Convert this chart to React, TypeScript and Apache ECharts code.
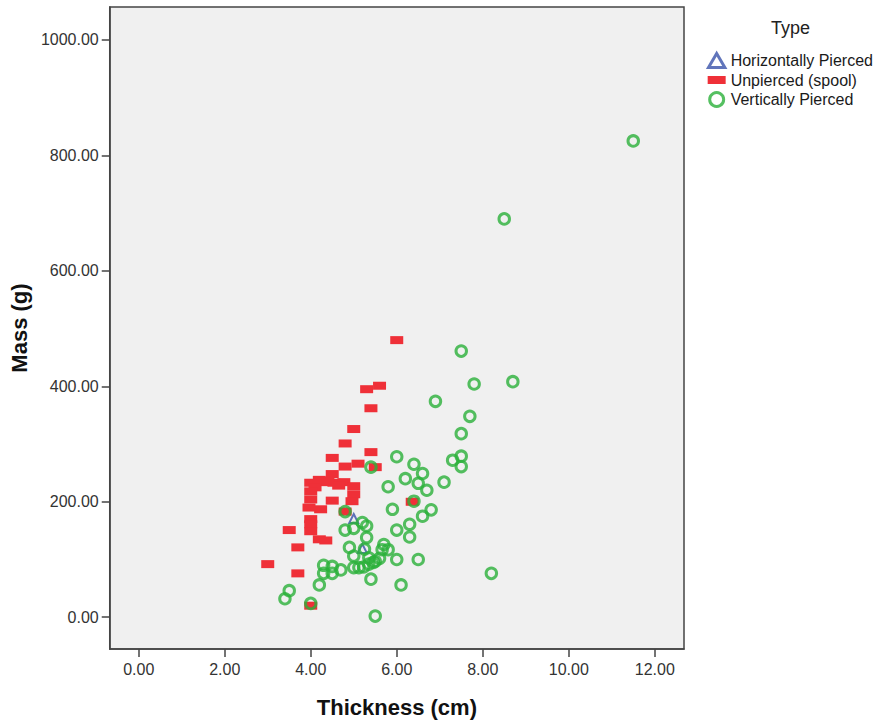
import { useEffect, useRef } from 'react';
import * as echarts from 'echarts';

// Artefact types (legend order = drawing order)
const typeNames = ['Horizontally Pierced', 'Unpierced (spool)', 'Vertically Pierced'];

// Axis tick values
const xTicks = [0, 2, 4, 6, 8, 10, 12];
const yTicks = [0, 200, 400, 600, 800, 1000];

// Horizontally pierced: thickness (cm) / mass (g)
const horizThickness = [5.0, 5.2];
const horizMass = [171, 119];

// Unpierced (spool): thickness (cm) / mass (g)
const spoolThickness = [
  6.0, 5.6, 5.3, 5.4, 5.0, 4.8, 5.4, 4.5, 5.5, 5.1, 4.8, 4.5,
  4.0, 4.27, 4.54, 4.77, 5.0, 4.2, 4.4, 4.1, 4.65,
  4.0, 5.0, 4.0, 4.5, 4.96, 3.96, 4.23, 4.8, 4.0, 4.0,
  3.5, 4.0, 4.2, 4.35, 3.7, 3.0, 3.7, 4.0, 6.36,
];
const spoolMass = [
  480, 401, 395, 362, 326, 301, 286, 276, 260, 266, 261, 248,
  233, 234, 233, 234, 227, 238, 236, 225, 228,
  218, 213, 204, 202, 201, 190, 187, 183, 170, 161,
  151, 149, 135, 133, 121, 92, 76, 20, 200,
];

// Vertically pierced: thickness (cm) / mass (g)
const verticalThickness = [
  11.5, 8.5, 7.5, 7.8, 8.7, 6.9, 7.7, 7.5, 6.0, 6.4,
  6.6, 6.2, 6.5, 6.7, 5.8, 7.1, 7.3, 7.5, 7.5, 6.4,
  5.9, 6.8, 6.6, 6.0, 6.3, 6.3, 5.7, 5.66, 5.8, 5.6,
  5.5, 6.0, 6.5, 8.2, 6.1, 5.5, 5.4, 4.8, 5.2, 5.3,
  5.0, 4.8, 5.3, 4.9, 5.25, 5.0, 5.35, 5.0, 5.12, 5.23,
  5.35, 5.46, 4.3, 4.5, 4.7, 4.3, 4.5, 4.2, 5.4, 3.5,
  3.4, 4.0,
];
const verticalMass = [
  825, 690, 461, 404, 408, 374, 348, 318, 278, 265,
  249, 240, 232, 220, 226, 234, 272, 279, 261, 201,
  187, 186, 175, 151, 161, 139, 126, 117, 117, 102,
  97, 100, 100, 76, 56, 2, 260, 183, 164, 158,
  154, 151, 138, 121, 118, 106, 103, 86, 86, 87,
  92, 95, 90, 88, 82, 76, 76, 56, 66, 46,
  32, 24,
];

const zip = (xs: number[], ys: number[]) => xs.map((x, i) => [x, ys[i]]);

const FONT = '"Liberation Sans", Arial, sans-serif';
const FRAME = '#444444';
const BLUE = '#3a52aa';
const RED = '#ef3038';
const GREEN = '#2bb03a';

export default function App() {
  const ref = useRef<HTMLDivElement>(null);

  useEffect(() => {
    if (!ref.current) return;
    const chart = echarts.init(ref.current, undefined, { renderer: 'svg' });

    const axisCommon = {
      type: 'value' as const,
      splitLine: { show: false },
      axisLine: { show: true, onZero: false, lineStyle: { color: FRAME, width: 1.5 } },
    };

    chart.setOption({
      animation: false,
      backgroundColor: '#ffffff',
      textStyle: { fontFamily: FONT },
      grid: {
        left: 109,
        top: 7,
        width: 575,
        height: 645,
        show: true,
        backgroundColor: '#f0f0f0',
        borderColor: FRAME,
        borderWidth: 1.5,
      },
      xAxis: {
        ...axisCommon,
        min: -0.674,
        max: 12.68,
        axisTick: { show: true, length: 8, customValues: xTicks, lineStyle: { color: FRAME, width: 1.5 } },
        axisLabel: {
          customValues: xTicks,
          formatter: (v: number) => v.toFixed(2),
          fontSize: 16,
          color: '#333333',
          margin: 12,
          fontFamily: FONT,
        },
        name: 'Thickness (cm)',
        nameLocation: 'middle',
        nameGap: 47,
        nameTextStyle: { fontSize: 22, fontWeight: 'bold', color: '#111111', fontFamily: FONT },
      },
      yAxis: {
        ...axisCommon,
        min: -55,
        max: 1057,
        axisTick: { show: true, length: 8, customValues: yTicks, lineStyle: { color: FRAME, width: 1.5 } },
        axisLabel: {
          customValues: yTicks,
          formatter: (v: number) => v.toFixed(2),
          fontSize: 16,
          color: '#333333',
          margin: 11,
          fontFamily: FONT,
        },
        name: 'Mass (g)',
        nameLocation: 'middle',
        nameGap: 76,
        nameTextStyle: { fontSize: 22, fontWeight: 'bold', color: '#111111', fontFamily: FONT },
      },
      legend: {
        orient: 'vertical',
        left: 702,
        top: 47,
        padding: 5,
        itemWidth: 18,
        itemHeight: 14,
        itemGap: 3,
        textStyle: { fontSize: 16, color: '#1a1a1a', fontFamily: FONT },
        data: [
          {
            name: typeNames[0],
            icon: 'path://M7,0L14,12L0,12Z',
            itemStyle: { color: 'transparent', borderColor: BLUE, borderWidth: 3 },
          },
          {
            name: typeNames[1],
            icon: 'path://M0,0H18V8H0Z',
            itemStyle: { color: RED, borderWidth: 0 },
          },
          {
            name: typeNames[2],
            icon: 'circle',
            itemStyle: { color: 'transparent', borderColor: GREEN, borderWidth: 3 },
          },
        ],
      },
      graphic: [
        {
          type: 'text',
          left: 771,
          top: 19,
          style: { text: 'Type', fontSize: 18, fill: '#222222', fontFamily: FONT },
        },
      ],
      series: [
        {
          name: typeNames[0],
          type: 'scatter',
          data: zip(horizThickness, horizMass),
          symbol: 'triangle',
          symbolSize: 9,
          itemStyle: { color: 'transparent', borderColor: BLUE, borderWidth: 2 },
        },
        {
          name: typeNames[1],
          type: 'scatter',
          data: zip(spoolThickness, spoolMass),
          symbol: 'rect',
          symbolSize: [13, 8],
          itemStyle: { color: RED, opacity: 1 },
        },
        {
          name: typeNames[2],
          type: 'scatter',
          data: zip(verticalThickness, verticalMass),
          symbol: 'circle',
          symbolSize: 10.5,
          itemStyle: { color: 'transparent', borderColor: GREEN, borderWidth: 3 },
        },
      ],
    });

    return () => chart.dispose();
  }, []);

  return (
    <div
      ref={ref}
      style={{ position: 'absolute', left: 0, top: 0, width: 877, height: 723 }}
    />
  );
}
